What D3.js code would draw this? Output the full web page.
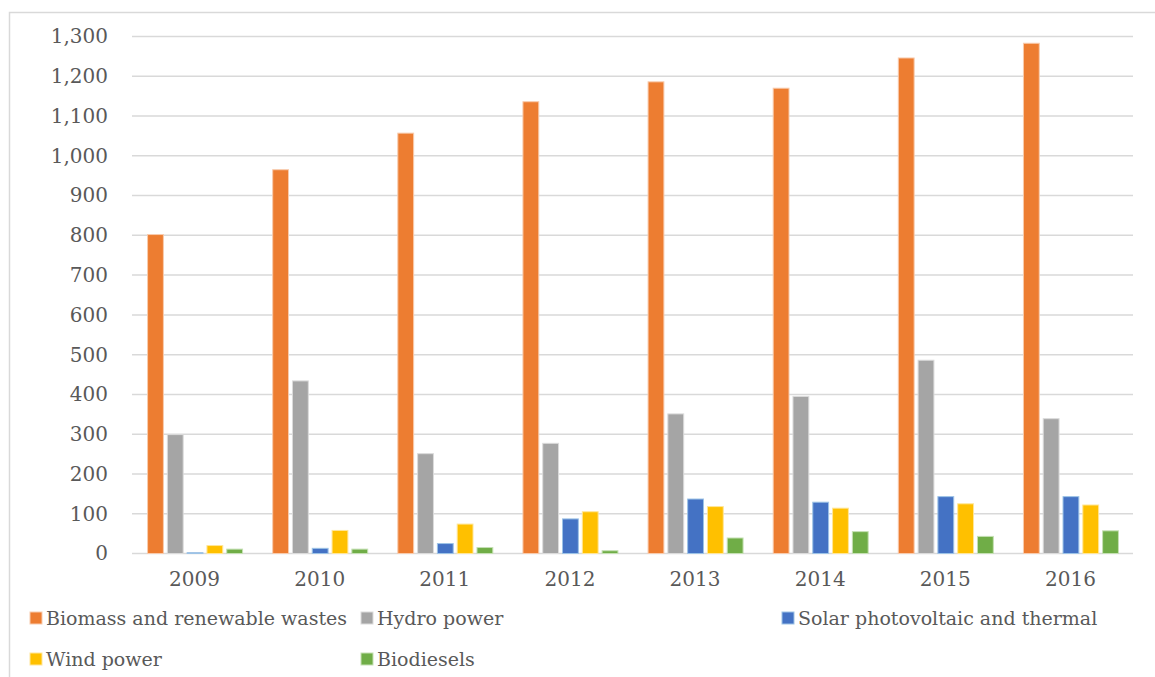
<!DOCTYPE html>
<html>
<head>
<meta charset="utf-8">
<script src="https://cdn.jsdelivr.net/npm/d3@7"></script>
<style>
body{margin:0;background:#fff}
</style>
</head>
<body>
<div id="chartDiv"></div>
<script>
//---data---
var Years=["2009","2010","2011","2012","2013","2014","2015","2016"]
var SeriesNames=["Biomass and renewable wastes","Hydro power","Solar photovoltaic and thermal","Wind power","Biodiesels"]
var Biomass=[802,965,1057,1136,1186,1170,1246,1283]
var Hydro=[299,434,251,277,351,395,486,339]
var Solar=[2,13,25,87,137,129,143,143]
var Wind=[20,58,74,105,118,114,125,122]
var Biodiesels=[11,11,15,7,39,55,43,57]
var YTicks=[0,100,200,300,400,500,600,700,800,900,1000,1100,1200,1300]

var SeriesValues=[Biomass,Hydro,Solar,Wind,Biodiesels]
var BarFill=["#ed7d31","#a5a5a5","#4472c4","#ffc000","#70ad47"]
var BarEdge=["#f8cbad","#dbdbdb","#9dc3e6","#ffe699","#c5e0b4"]

var Width=1155
var Height=677
var PlotLeft=132
var PlotRight=1133
var PlotTop=36.5
var PlotBottom=553.5
var FontFam="'DejaVu Serif', 'Liberation Serif', serif"

var ChartSVG=d3.select("#chartDiv").append("svg")
    .attr("width",Width)
    .attr("height",Height)
    .style("display","block")

//---outer frame (partly off the picture)---
ChartSVG.append("rect")
    .attr("x",9.5)
    .attr("y",12.5)
    .attr("width",1200)
    .attr("height",800)
    .attr("fill","none")
    .attr("stroke","#d9d9d9")
    .attr("stroke-width",1.5)

var x0=d3.scaleBand().domain(Years).range([PlotLeft,PlotRight])
var x1=d3.scaleBand().domain(d3.range(SeriesNames.length))
    .range([-47,48]).paddingInner(0.2)
var y=d3.scaleLinear().domain([0,1300]).range([PlotBottom,PlotTop])

//---grid---
var gridG=ChartSVG.append("g")
gridG.selectAll("line").data(YTicks).enter().append("line")
    .attr("x1",PlotLeft)
    .attr("x2",PlotRight)
    .attr("y1",function(d){return y(d)})
    .attr("y2",function(d){return y(d)})
    .attr("stroke","#d9d9d9")
    .attr("stroke-width",1.5)

//---y axis labels---
var yAxis=d3.axisLeft(y).tickValues(YTicks).tickSize(0).tickPadding(0)
    .tickFormat(d3.format(","))
var yG=ChartSVG.append("g")
    .attr("transform","translate(108,0)")
    .call(yAxis)
yG.select(".domain").remove()
yG.selectAll("text")
    .attr("font-family",FontFam)
    .attr("font-size","20px")
    .attr("fill","#595959")

//---x axis labels---
var xAxis=d3.axisBottom(x0).tickSize(0).tickPadding(0)
var xG=ChartSVG.append("g")
    .attr("transform","translate(0,"+(PlotBottom+18)+")")
    .call(xAxis)
xG.select(".domain").remove()
xG.selectAll("text")
    .attr("font-family",FontFam)
    .attr("font-size","20px")
    .attr("fill","#595959")

//---bars---
var groupG=ChartSVG.append("g").selectAll("g").data(Years).enter().append("g")
    .attr("transform",function(d){return "translate("+(x0(d)+x0.bandwidth()/2)+",0)"})

groupG.selectAll("rect")
    .data(function(d,i){return SeriesValues.map(function(s,k){return {k:k,v:s[i]}})})
    .enter().append("rect")
    .attr("x",function(d){return x1(d.k)})
    .attr("width",x1.bandwidth())
    .attr("y",function(d){return y(d.v)})
    .attr("height",function(d){return PlotBottom-y(d.v)})
    .attr("fill",function(d){return BarFill[d.k]})
    .attr("stroke",function(d){return BarEdge[d.k]})
    .attr("stroke-width",1)

//---legend---
var LegendPos=[[30,612],[361,612],[782,612],[30,653],[361,653]]
var legG=ChartSVG.append("g").selectAll("g").data(SeriesNames).enter().append("g")
    .attr("transform",function(d,i){return "translate("+LegendPos[i][0]+","+LegendPos[i][1]+")"})
legG.append("rect")
    .attr("width",12)
    .attr("height",12)
    .attr("fill",function(d,i){return BarFill[i]})
    .attr("stroke",function(d,i){return BarEdge[i]})
    .attr("stroke-width",1)
legG.append("text")
    .attr("x",16)
    .attr("y",13)
    .attr("font-family",FontFam)
    .attr("font-size","19px")
    .attr("fill","#595959")
    .text(function(d){return d})
</script>
</body>
</html>
